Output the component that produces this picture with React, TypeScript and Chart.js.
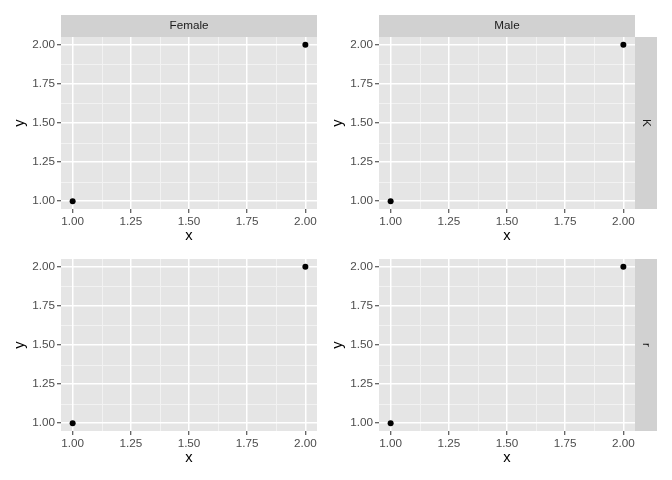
import React, { useEffect, useRef } from 'react';
import { Chart, registerables } from 'chart.js';

Chart.register(...registerables);

// ---- data ----
const colFacets = ['Female', 'Male'];
const rowFacets = ['K', 'r'];
const pointX = [1, 2];
const pointY = [1, 2];
const majorTicks = [1, 1.25, 1.5, 1.75, 2];
const minorTicks = [1.125, 1.375, 1.625, 1.875];
const tickLabels = ['1.00', '1.25', '1.50', '1.75', '2.00'];
const axisMin = 0.95;
const axisMax = 2.05;
const xTitle = 'x';
const yTitle = 'y';

const FONT = '"Liberation Sans", Arial, Helvetica, sans-serif';
const PANEL_BG = '#E5E5E5';
const STRIP_BG = '#D1D1D1';
const MINOR_GRID = '#F2F2F2';
const STRIP_W = 22;

type PanelSpec = {
  left: number;
  top: number;
  width: number;
  height: number;
  padRight: number;
  padTop: number;
  topStrip: string | null;
  rightStrip: string | null;
};

const panelBgPlugin = {
  id: 'panelBg',
  beforeDraw(chart: any) {
    const { ctx, chartArea, scales } = chart;
    const { left, right, top, bottom } = chartArea;
    ctx.save();
    ctx.fillStyle = PANEL_BG;
    ctx.fillRect(left, top, right - left, bottom - top);
    ctx.strokeStyle = MINOR_GRID;
    ctx.lineWidth = 1;
    ctx.beginPath();
    minorTicks.forEach((v) => {
      const px = Math.round(scales.x.getPixelForValue(v)) + 0.5;
      ctx.moveTo(px, top);
      ctx.lineTo(px, bottom);
      const py = Math.round(scales.y.getPixelForValue(v)) + 0.5;
      ctx.moveTo(left, py);
      ctx.lineTo(right, py);
    });
    ctx.stroke();
    ctx.restore();
  },
  afterDraw(chart: any, _args: any, opts: any) {
    const { ctx, chartArea } = chart;
    const { left, right, top, bottom } = chartArea;
    ctx.save();
    ctx.font = `11.7px ${FONT}`;
    ctx.fillStyle = '#1A1A1A';
    if (opts.topStrip) {
      ctx.fillStyle = STRIP_BG;
      ctx.fillRect(left, top - STRIP_W, right - left, STRIP_W);
      ctx.fillStyle = '#1A1A1A';
      ctx.textAlign = 'center';
      ctx.textBaseline = 'middle';
      ctx.fillText(opts.topStrip, (left + right) / 2, top - STRIP_W / 2);
    }
    if (opts.rightStrip) {
      ctx.fillStyle = STRIP_BG;
      ctx.fillRect(right, top, STRIP_W, bottom - top);
      ctx.fillStyle = '#1A1A1A';
      ctx.translate(right + STRIP_W / 2, (top + bottom) / 2);
      ctx.rotate(Math.PI / 2);
      ctx.textAlign = 'center';
      ctx.textBaseline = 'middle';
      ctx.fillText(opts.rightStrip, 0, 0);
    }
    ctx.restore();
  },
};

function Panel({ spec }: { spec: PanelSpec }) {
  const ref = useRef<HTMLCanvasElement>(null);
  useEffect(() => {
    if (!ref.current) return;
    const tickFont = { family: FONT, size: 11.7 };
    const titleFont = { family: FONT, size: 14.7 };
    const chart = new Chart(ref.current, {
      type: 'scatter',
      data: {
        datasets: [
          {
            data: pointX.map((x, i) => ({ x, y: pointY[i] })),
            backgroundColor: '#000000',
            borderWidth: 0,
            pointRadius: 3,
            pointHoverRadius: 3,
          },
        ],
      },
      plugins: [panelBgPlugin],
      options: {
        responsive: false,
        animation: false,
        events: [],
        layout: { padding: { left: 0, right: spec.padRight, top: spec.padTop, bottom: 0 } },
        plugins: {
          legend: { display: false },
          tooltip: { enabled: false },
          panelBg: { topStrip: spec.topStrip, rightStrip: spec.rightStrip },
        } as any,
        scales: {
          x: {
            type: 'linear',
            min: axisMin,
            max: axisMax,
            afterBuildTicks: (s: any) => {
              s.ticks = majorTicks.map((v) => ({ value: v }));
            },
            afterFit: (s: any) => {
              s.height = 36;
            },
            grid: {
              color: '#FFFFFF',
              lineWidth: 1.5,
              tickColor: '#333333',
              tickWidth: 1,
              tickLength: 4,
            },
            border: { display: false },
            ticks: {
              autoSkip: false,
              maxRotation: 0,
              padding: 2,
              color: '#4D4D4D',
              font: tickFont,
              callback: (_v: any, i: number) => tickLabels[i],
            },
            title: {
              display: true,
              text: xTitle,
              color: '#000000',
              font: titleFont,
              padding: { top: 0, bottom: 0 },
            },
          },
          y: {
            type: 'linear',
            min: axisMin,
            max: axisMax,
            afterBuildTicks: (s: any) => {
              s.ticks = majorTicks.map((v) => ({ value: v }));
            },
            afterFit: (s: any) => {
              s.width = 61;
            },
            grid: {
              color: '#FFFFFF',
              lineWidth: 1.5,
              tickColor: '#333333',
              tickWidth: 1,
              tickLength: 4,
            },
            border: { display: false },
            ticks: {
              autoSkip: false,
              padding: 2,
              color: '#4D4D4D',
              font: tickFont,
              callback: (_v: any, i: number) => tickLabels[i],
            },
            title: {
              display: true,
              text: yTitle,
              color: '#000000',
              font: titleFont,
              padding: { top: 11, bottom: 0 },
            },
          },
        },
      } as any,
    });
    return () => chart.destroy();
  }, [spec]);
  return (
    <div style={{ position: 'absolute', left: spec.left, top: spec.top, width: spec.width, height: spec.height }}>
      <canvas ref={ref} width={spec.width} height={spec.height} style={{ display: 'block' }} />
    </div>
  );
}

const specs: PanelSpec[] = [
  { left: 0, top: 0, width: 326, height: 245, padRight: 9, padTop: 37, topStrip: colFacets[0], rightStrip: null },
  { left: 318, top: 0, width: 354, height: 245, padRight: 37, padTop: 37, topStrip: colFacets[1], rightStrip: rowFacets[0] },
  { left: 0, top: 245, width: 326, height: 222, padRight: 9, padTop: 14, topStrip: null, rightStrip: null },
  { left: 318, top: 245, width: 354, height: 222, padRight: 37, padTop: 14, topStrip: null, rightStrip: rowFacets[1] },
];

export default function App() {
  return (
    <div style={{ position: 'absolute', left: 0, top: 0, width: 672, height: 480, background: '#FFFFFF', overflow: 'hidden' }}>
      {specs.map((s, i) => (
        <Panel key={i} spec={s} />
      ))}
    </div>
  );
}
